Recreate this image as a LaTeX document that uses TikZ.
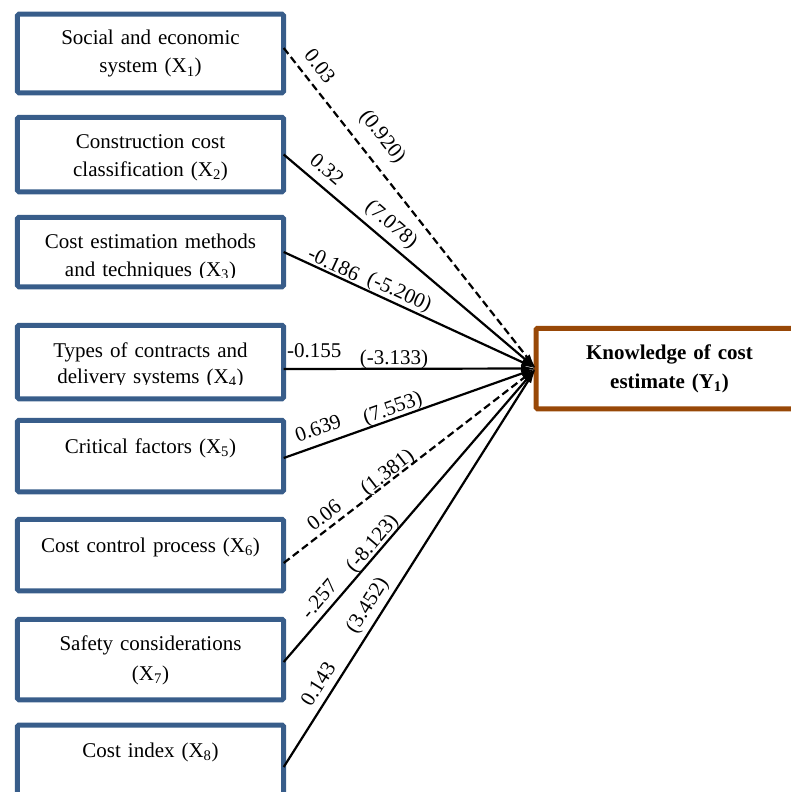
\documentclass[tikz,border=0pt]{standalone}
\usepackage{fontspec}
\setmainfont{Liberation Serif}
\usetikzlibrary{arrows.meta}
\definecolor{boxblue}{RGB}{56,93,138}
\definecolor{boxbrown}{RGB}{152,72,7}

\begin{document}
\begin{tikzpicture}[x=1pt,y=-1pt,
  factor/.style={draw=boxblue, line width=5pt, rounded corners=1.5pt,
    inner sep=0pt, outer sep=0pt, minimum width=266.4pt},
  outcome/.style={draw=boxbrown, line width=5pt, rounded corners=1.5pt,
    inner sep=0pt, outer sep=0pt},
  boxtext/.style={anchor=base, inner sep=0pt, text width=262pt, align=center,
    font=\fontsize{21}{28}\selectfont},
  coef/.style={inner sep=0pt, font=\fontsize{21}{25}\selectfont},
  path/.style={line width=2.2pt, -{Latex[length=15pt,width=7.5pt]}},
  weak/.style={path, dash pattern=on 7.5pt off 4pt},
]
\useasboundingbox (0,0) rectangle (790,792);

% explanatory variables
\node[factor, minimum height=78.5pt] (b1) at (150.5,53.5) {};
\node[factor, minimum height=74.5pt] (b2) at (150.5,154.5) {};
\node[factor, minimum height=69.5pt] (b3) at (150.5,252) {};
\node[factor, minimum height=73.5pt] (b4) at (150.5,362) {};
\node[factor, minimum height=71.5pt] (b5) at (150.5,456) {};
\node[factor, minimum height=71.5pt] (b6) at (150.5,555) {};
\node[factor, minimum height=80.5pt] (b7) at (150.5,659.5) {};
\node[factor, minimum height=80pt]   (b8) at (150.5,765) {};

\node[boxtext] (t1) at (150.5,45) {Social and economic\\system (X\textsubscript{1})};
\node[boxtext] (t2) at (150.5,148) {Construction cost\\classification (X\textsubscript{2})};
\begin{scope}
  \clip (20,220) rectangle (281,277.5);
  \node[boxtext] (t3) at (150.5,248) {Cost estimation methods\\and techniques (X\textsubscript{3})};
\end{scope}
\begin{scope}
  \clip (20,328) rectangle (281,384.5);
  \node[boxtext, font=\fontsize{21}{26}\selectfont] (t4) at (150.5,357) {Types of contracts and\\delivery systems (X\textsubscript{4})};
\end{scope}
\node[boxtext] (t5) at (150.5,453) {Critical factors (X\textsubscript{5})};
\node[boxtext] (t6) at (150.5,552) {Cost control process (X\textsubscript{6})};
\node[boxtext, font=\fontsize{21}{30}\selectfont] (t7) at (150.5,650) {Safety considerations\\(X\textsubscript{7})};
\node[boxtext] (t8) at (150.5,757) {Cost index (X\textsubscript{8})};

% dependent variable
\node[outcome, minimum width=267pt, minimum height=80.5pt] (y1) at (669.5,368.5) {};
\node[boxtext, font=\fontsize{21}{29}\selectfont\bfseries] (ty) at (669.5,359) {Knowledge of cost\\estimate (Y\textsubscript{1})};

% start points of the paths on the boxes
\coordinate (s1) at ([yshift=5.5pt]b1.east);
\coordinate (s2) at (b2.east);
\coordinate (s3) at (b3.east);
\coordinate (s4) at ([yshift=-7pt]b4.east);
\coordinate (s5) at ([yshift=-2pt]b5.east);
\coordinate (s6) at ([yshift=-8pt]b6.east);
\coordinate (s7) at ([yshift=-2.5pt]b7.east);
\coordinate (s8) at ([yshift=-2pt]b8.east);

\draw[weak] (s1) -- (y1.west);
\draw[path] (s2) -- (y1.west);
\draw[path] (s3) -- (y1.west);
\draw[path] (s4) -- (y1.west);
\draw[path] (s5) -- (y1.west);
\draw[weak] (s6) -- (y1.west);
\draw[path] (s7) -- (y1.west);
\draw[path] (s8) -- (y1.west);

% coefficients and t-values
\node[coef, rotate=-51.9] (c1) at (320,66) {0.03};
\node[coef, rotate=-51.9] (v1) at (382,137) {(0.920)};
\node[coef, rotate=-40.5] (c2) at (327,169) {0.32};
\node[coef, rotate=-40.5] (v2) at (391,225) {(7.078)};
\node[coef, rotate=-24.8] (c3) at (334,264) {-0.186};
\node[coef, rotate=-24.8] (v3) at (399,293) {(-5.200)};
\node[coef, anchor=base west] (c4) at (287,357) {-0.155};
\node[coef, anchor=base] (v4) at (394,364) {(-3.133)};
\node[coef, rotate=19.7] (c5) at (318,428) {0.639};
\node[coef, rotate=19.7] (v5) at (393,409) {(7.553)};
\node[coef, rotate=37.8] (c6) at (324,515) {0.06};
\node[coef, rotate=37.8] (v6) at (388,473) {(1.381)};
\node[coef, rotate=49.5] (c7) at (319,599) {-.257};
\node[coef, rotate=49.5] (v7) at (373,544) {(-8.123)};
\node[coef, rotate=57.8] (c8) at (318,684) {0.143};
\node[coef, rotate=57.8] (v8) at (368,606) {(3.452)};
\end{tikzpicture}
\end{document}
